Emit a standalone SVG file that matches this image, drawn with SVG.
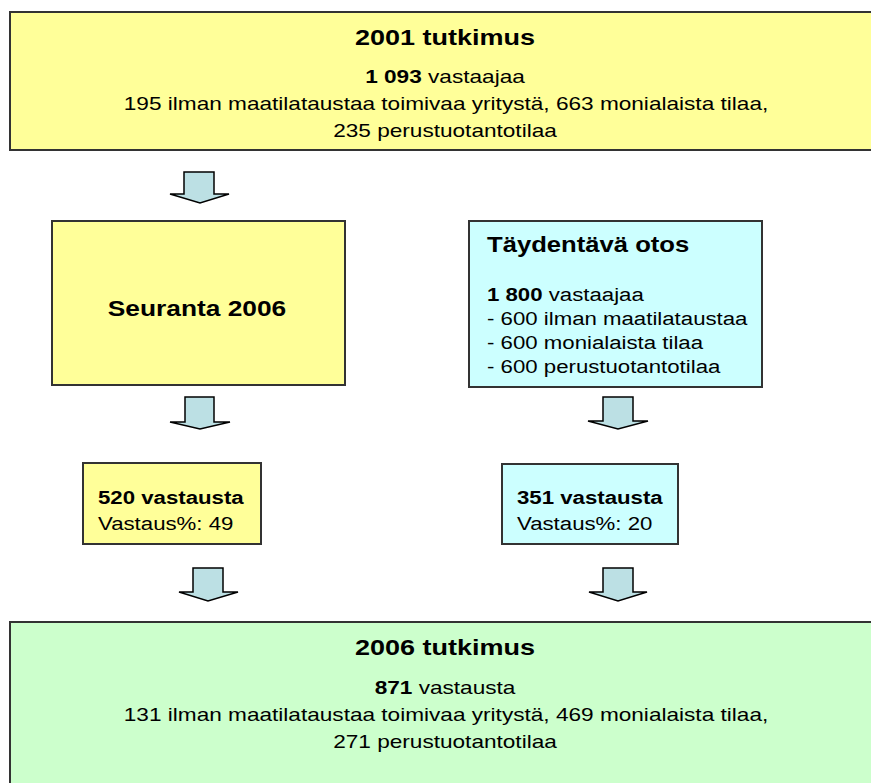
<svg xmlns="http://www.w3.org/2000/svg" width="871" height="783" viewBox="0 0 871 783">
<style>
text{font-family:"Liberation Sans",Arial,sans-serif;fill:#000}
.box{stroke:#333;stroke-width:2}
.edge{fill:none;stroke:#333;stroke-width:2}
.y{fill:#FFFF99}
.c{fill:#CCFFFF}
.g{fill:#CCFFCC}
.t{font-size:22.5px;font-weight:bold}
.b{font-size:19px}
.bb{font-weight:bold}
.arr{fill:#BCE0E4;stroke:#000;stroke-width:1.5;stroke-linejoin:miter}
</style>
<rect width="871" height="783" fill="#fff"/>
<g id="n2001">
<rect class="y" x="10" y="12" width="861" height="138"/>
<path class="edge" d="M871,12 H10 V150 H871"/>
<text class="t" text-anchor="middle" transform="translate(445 45) scale(1.2 1)">2001 tutkimus</text>
<text class="b" text-anchor="middle" transform="translate(445 83) scale(1.19 1)"><tspan class="bb">1 093</tspan> vastaajaa</text>
<text class="b" text-anchor="middle" transform="translate(446 110) scale(1.19 1)">195 ilman maatilataustaa toimivaa yritystä, 663 monialaista tilaa,</text>
<text class="b" text-anchor="middle" transform="translate(445 137) scale(1.19 1)">235 perustuotantotilaa</text>
</g>
<g id="seuranta">
<rect class="box y" x="52" y="221" width="293" height="164"/>
<text class="t" text-anchor="middle" transform="translate(197 316) scale(1.17 1)">Seuranta 2006</text>
</g>
<g id="taydentava">
<rect class="box c" x="469" y="221" width="293" height="166"/>
<text class="t" transform="translate(487 252) scale(1.14 1)">Täydentävä otos</text>
<text class="b" transform="translate(487 301) scale(1.17 1)"><tspan class="bb">1 800</tspan> vastaajaa</text>
<text class="b" transform="translate(487 325) scale(1.17 1)">- 600 ilman maatilataustaa</text>
<text class="b" transform="translate(487 349) scale(1.17 1)">- 600 monialaista tilaa</text>
<text class="b" transform="translate(487 373) scale(1.17 1)">- 600 perustuotantotilaa</text>
</g>
<g id="v520">
<rect class="box y" x="83" y="463" width="178" height="81"/>
<text class="b bb" transform="translate(98 504) scale(1.17 1)">520 vastausta</text>
<text class="b" transform="translate(98 530) scale(1.17 1)">Vastaus%: 49</text>
</g>
<g id="v351">
<rect class="box c" x="502" y="464" width="176" height="80"/>
<text class="b bb" transform="translate(517 504) scale(1.17 1)">351 vastausta</text>
<text class="b" transform="translate(517 530) scale(1.17 1)">Vastaus%: 20</text>
</g>
<g id="n2006">
<rect class="g" x="10" y="622" width="861" height="161"/>
<path class="edge" d="M871,622 H10 V783"/>
<text class="t" text-anchor="middle" transform="translate(445 655) scale(1.2 1)">2006 tutkimus</text>
<text class="b" text-anchor="middle" transform="translate(445 694) scale(1.19 1)"><tspan class="bb">871</tspan> vastausta</text>
<text class="b" text-anchor="middle" transform="translate(446 721) scale(1.19 1)">131 ilman maatilataustaa toimivaa yritystä, 469 monialaista tilaa,</text>
<text class="b" text-anchor="middle" transform="translate(445 748) scale(1.19 1)">271 perustuotantotilaa</text>
</g>
<g id="connectors">
<path class="arr" d="M184,172 H214 V194 H229 L200,203 L170,194 H184 Z"/>
<path class="arr" d="M185,397 H214 V422 H230 L200,429 L170,422 H185 Z"/>
<path class="arr" d="M603,397 H633 V421 H648 L618,429 L588,421 H603 Z"/>
<path class="arr" d="M193,568 H223 V592 H238 L208,601 L179,592 H193 Z"/>
<path class="arr" d="M603,568 H633 V592 H647 L618,601 L589,592 H603 Z"/>
</g>
</svg>
